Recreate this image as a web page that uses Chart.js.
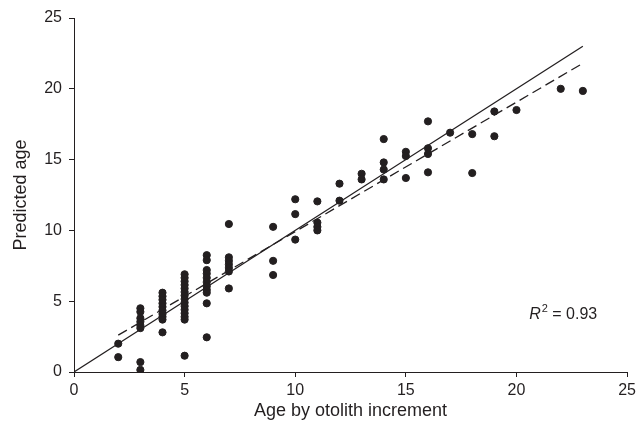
<!DOCTYPE html>
<html>
<head>
<meta charset="utf-8">
<script src="https://cdn.jsdelivr.net/npm/chart.js@4"></script>
<style>
  html,body{margin:0;padding:0;background:#fff;}
  #wrap{width:640px;height:434px;}
</style>
</head>
<body>
<div id="wrap"><canvas id="chart" width="640" height="434"></canvas></div>
<script>
// otolith increment ages and predicted ages read at each of them
const otolithAges = [2, 3, 4, 5, 6, 7, 9, 10, 11, 12, 13, 14, 15, 16, 17, 18, 19, 20, 22, 23];
const predictedAges = [
  [2.0, 1.05],
  [4.5, 4.25, 3.8, 3.55, 3.3, 3.1, 0.7, 0.15],
  [5.6, 5.35, 5.1, 4.85, 4.6, 4.35, 4.1, 3.9, 3.7, 2.8],
  [6.9, 6.65, 6.4, 6.15, 5.9, 5.65, 5.4, 5.15, 4.9, 4.65, 4.4, 4.15, 3.9, 3.7, 1.15],
  [8.25, 7.9, 7.2, 6.95, 6.65, 6.35, 6.05, 5.8, 5.6, 4.85, 2.45],
  [10.45, 8.1, 7.85, 7.6, 7.35, 7.1, 5.9],
  [10.25, 7.85, 6.85],
  [12.2, 11.15, 9.35],
  [12.05, 10.55, 10.25, 10.0],
  [13.3, 12.1],
  [14.0, 13.6],
  [16.45, 14.8, 14.3, 13.6],
  [15.55, 15.25, 13.7],
  [17.7, 15.8, 15.4, 14.1],
  [16.9],
  [16.8, 14.05],
  [18.4, 16.65],
  [18.5],
  [20.0],
  [19.85]
];
// 1:1 line and fitted line end points
const oneToOneX = [0, 23];
const oneToOneY = [0, 23];
const fitX = [2, 23];
const fitY = [2.6, 21.8];
const axisTicks = [0, 5, 10, 15, 20, 25];
const rSquared = "0.93";

const FONT = "'Liberation Sans', Arial, Helvetica, sans-serif";
const INK = "#231f20";

const points = [];
otolithAges.forEach((a, i) => predictedAges[i].forEach(p => points.push({x: a, y: p})));
const pairs = (xs, ys) => xs.map((x, i) => ({x, y: ys[i]}));

const r2Label = {
  id: "r2Label",
  afterDatasetsDraw(chart) {
    const {ctx, scales: {x, y}} = chart;
    const right = x.getPixelForValue(23.65);
    const base = y.getPixelForValue(3.75);
    ctx.save();
    ctx.fillStyle = INK;
    ctx.textBaseline = "alphabetic";
    ctx.textAlign = "left";
    const rest = " = " + rSquared;
    ctx.font = "16px " + FONT;
    const wRest = ctx.measureText(rest).width;
    ctx.font = "italic 16px " + FONT;
    const wR = ctx.measureText("R").width;
    ctx.font = "11px " + FONT;
    const w2 = ctx.measureText("2").width;
    let left = right - wRest - w2 - wR - 1;
    ctx.font = "italic 16px " + FONT;
    ctx.fillText("R", left, base);
    left += wR + 1;
    ctx.font = "11px " + FONT;
    ctx.fillText("2", left, base - 7);
    left += w2;
    ctx.font = "16px " + FONT;
    ctx.fillText(rest, left, base);
    ctx.restore();
  }
};

const axisBase = (title, pad) => ({
  type: "linear",
  min: 0, max: 25,
  afterBuildTicks: s => { s.ticks = axisTicks.map(v => ({value: v})); },
  grid: {display: true, drawOnChartArea: false, drawTicks: true, tickLength: 5, color: INK, lineWidth: 1},
  border: {display: true, color: INK, width: 1},
  ticks: {color: INK, font: {family: FONT, size: 16}, padding: pad},
  title: {display: true, text: title, color: INK, font: {family: FONT, size: 18}}
});

const xAxis = axisBase("Age by otolith increment", 4);
xAxis.title.padding = {top: 6, bottom: 0};
xAxis.afterFit = s => { s.height = 50; };
const yAxis = axisBase("Predicted age", 7);
yAxis.title.padding = {top: 0, bottom: 4};
yAxis.afterFit = s => { s.width = 64; };

new Chart(document.getElementById("chart"), {
  type: "scatter",
  data: {
    datasets: [
      {data: points, backgroundColor: INK, borderColor: INK, pointRadius: 3.6, pointHoverRadius: 3.6, order: 1},
      {type: "line", data: pairs(oneToOneX, oneToOneY), borderColor: INK, borderWidth: 1.2, pointRadius: 0, fill: false, order: 2},
      {type: "line", data: pairs(fitX, fitY), borderColor: INK, borderWidth: 1.3, borderDash: [10, 5], pointRadius: 0, fill: false, order: 2}
    ]
  },
  options: {
    responsive: false,
    animation: false,
    layout: {padding: {top: 18, right: 12, left: 10, bottom: 12}},
    plugins: {legend: {display: false}, tooltip: {enabled: false}},
    scales: {x: xAxis, y: yAxis}
  },
  plugins: [r2Label]
});
</script>
</body>
</html>
